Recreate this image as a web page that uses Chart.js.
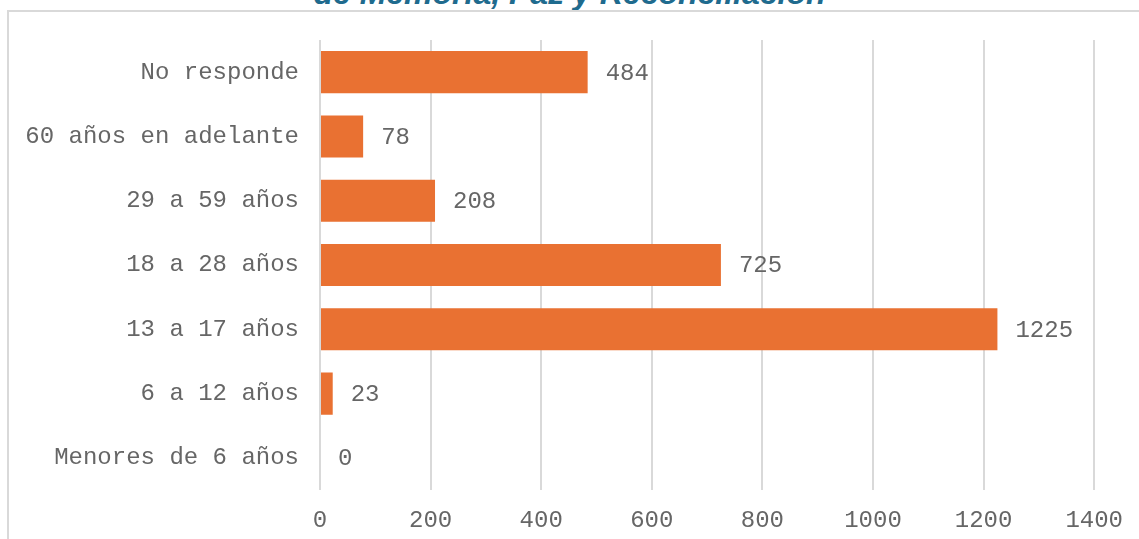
<!DOCTYPE html>
<html lang="es">
<head>
  <meta charset="UTF-8" />
  <title>Edades</title>
  <script src="https://cdn.jsdelivr.net/npm/chart.js"></script>
  <style>
    html, body { margin: 0; padding: 0; background: #fff; overflow: hidden; }
    body { width: 1139px; height: 539px; position: relative; }
    #titulo {
      position: absolute; left: 0; width: 1139px; top: -23px;
      text-align: center; font-family: 'Liberation Sans', sans-serif;
      font-weight: bold; font-style: italic; font-size: 32px; line-height: 32px;
      color: #1f6b8e; white-space: nowrap;
    }
    #marco {
      position: absolute; left: 7px; top: 10px; right: -5px; bottom: -5px;
      border-left: 2px solid #d9d9d9; border-top: 2px solid #d9d9d9;
    }
    #caja { position: absolute; left: 0; top: 0; width: 1139px; height: 539px; }
  </style>
</head>
<body>
  <div id="titulo">de Memoria, Paz y Reconciliación</div>
  <div id="marco"></div>
  <div id="caja"><canvas id="grafico"></canvas></div>

  <script>
    const categorias = ["No responde", "60 años en adelante", "29 a 59 años", "18 a 28 años", "13 a 17 años", "6 a 12 años", "Menores de 6 años"];
    const valores = [484, 78, 208, 725, 1225, 23, 0];
    const ticksX = [0, 200, 400, 600, 800, 1000, 1200, 1400];

    const fuente = { family: "'Liberation Mono', 'Courier New', monospace", size: 24 };
    const gris = "#666666";

    // etiquetas de valor al final de cada barra
    const etiquetasValor = {
      id: "etiquetasValor",
      afterDatasetsDraw(chart) {
        const ctx = chart.ctx;
        const meta = chart.getDatasetMeta(0);
        ctx.save();
        ctx.font = `${fuente.size}px ${fuente.family}`;
        ctx.fillStyle = gris;
        ctx.textAlign = "left";
        ctx.textBaseline = "middle";
        meta.data.forEach((barra, i) => {
          ctx.fillText(String(valores[i]), barra.x + 18, barra.y + 1);
        });
        ctx.restore();
      },
    };

    new Chart(document.getElementById("grafico"), {
      type: "bar",
      data: {
        labels: categorias,
        datasets: [
          {
            data: valores,
            backgroundColor: "#e97132",
            borderWidth: 0,
            categoryPercentage: 1,
            barPercentage: 0.655,
          },
        ],
      },
      options: {
        indexAxis: "y",
        responsive: true,
        maintainAspectRatio: false,
        animation: false,
        layout: { padding: { top: 40, right: 38, left: 0, bottom: 0 } },
        scales: {
          x: {
            min: 0,
            max: 1400,
            afterBuildTicks: (eje) => { eje.ticks = ticksX.map((v) => ({ value: v })); },
            afterFit: (eje) => { eje.height = 49; },
            grid: { color: "#d9d9d9", lineWidth: 2, drawTicks: false },
            border: { display: false },
            ticks: { font: fuente, color: gris, padding: 16, callback: (v) => String(v) },
          },
          y: {
            afterFit: (eje) => { eje.width = 320; },
            grid: { display: false },
            border: { display: false },
            ticks: { font: fuente, color: gris, padding: 13 },
          },
        },
        plugins: {
          legend: { display: false },
          tooltip: { enabled: false },
        },
      },
      plugins: [etiquetasValor],
    });
  </script>
</body>
</html>
